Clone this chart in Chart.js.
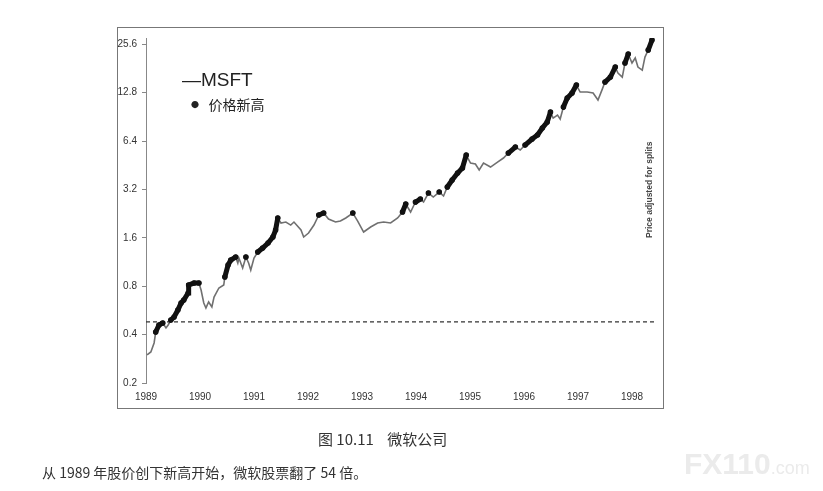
<!DOCTYPE html>
<html>
<head>
<meta charset="utf-8">
<script src="https://cdn.jsdelivr.net/npm/chart.js@4.4.1/dist/chart.umd.min.js"></script>
<style>
  body { margin: 0; background: #fff; }
  #wrap { position: relative; width: 823px; height: 491px; overflow: hidden; }
  #frame { position: absolute; left: 117px; top: 27px; width: 545px; height: 380px; border: 1px solid #777; }
  #chartBox { position: absolute; left: 0; top: 0; width: 823px; height: 491px; }
  .txt { position: absolute; white-space: nowrap; color: #222; }
</style>
</head>
<body>
<div id="wrap">
  <div id="frame"></div>
  <div id="chartBox"><canvas id="msftChart"></canvas></div>

  <!-- legend, drawn over the chart area -->
  <div class="txt" style="left:182px; top:70px; font:19px 'Liberation Sans', sans-serif; line-height:19px;">&#8212;MSFT</div>
  <div class="txt" style="left:191px; top:95px; font:14px 'Noto Sans CJK SC', sans-serif; line-height:18px;"><span style="font-size:8px; vertical-align:2px;">&#9679;</span>&nbsp;&nbsp;&nbsp;价格新高</div>

  <!-- side note -->
  <div class="txt" style="left:606px; top:190px; width:86px; text-align:center; transform:rotate(-90deg); font:bold 8.5px 'Liberation Sans Narrow', 'Liberation Sans', sans-serif; color:#444;">Price adjusted for splits</div>

  <!-- captions -->
  <div class="txt" style="left:318px; top:428px; font:15px 'Noto Sans CJK SC', sans-serif; color:#333;">图 10.11&nbsp;&nbsp;&nbsp;&nbsp;微软公司</div>
  <div class="txt" style="left:42px; top:462px; font:14px 'Noto Sans CJK SC', sans-serif; color:#333;">从 1989 年股价创下新高开始，微软股票翻了 54 倍。</div>

  <!-- watermark -->
  <div class="txt" style="left:684px; top:449px; font:bold 30px 'Liberation Sans', sans-serif; color:#ebebeb; line-height:30px;">FX110<span style="font-weight:normal; font-size:18px;">.com</span></div>
</div>

<script>
// MSFT price (split adjusted)
const dates = [
  1989.02, 1989.09, 1989.15, 1989.18, 1989.24, 1989.31, 1989.37, 1989.41, 1989.46, 1989.52,
  1989.59, 1989.65, 1989.70, 1989.78, 1989.79, 1989.89, 1989.98, 1990.02, 1990.07, 1990.11,
  1990.16, 1990.22, 1990.26, 1990.35, 1990.44, 1990.46, 1990.52, 1990.57, 1990.66, 1990.70,
  1990.72, 1990.79, 1990.85, 1990.90, 1990.94, 1991.00, 1991.07, 1991.16, 1991.26, 1991.35,
  1991.40, 1991.44, 1991.50, 1991.59, 1991.68, 1991.74, 1991.87, 1991.92, 1992.01, 1992.11,
  1992.20, 1992.29, 1992.38, 1992.51, 1992.60, 1992.70, 1992.83, 1992.92, 1993.03, 1993.16,
  1993.29, 1993.40, 1993.53, 1993.66, 1993.75, 1993.81, 1993.90, 1993.99, 1994.08, 1994.14,
  1994.23, 1994.32, 1994.43, 1994.51, 1994.58, 1994.67, 1994.77, 1994.86, 1994.93, 1995.01,
  1995.10, 1995.17, 1995.25, 1995.38, 1995.51, 1995.62, 1995.71, 1995.84, 1995.93, 1996.02,
  1996.15, 1996.25, 1996.34, 1996.43, 1996.49, 1996.54, 1996.62, 1996.67, 1996.73, 1996.80,
  1996.89, 1996.97, 1997.04, 1997.17, 1997.28, 1997.37, 1997.45, 1997.50, 1997.60, 1997.69,
  1997.74, 1997.82, 1997.87, 1997.93, 1998.00, 1998.06, 1998.11, 1998.19, 1998.24, 1998.30,
  1998.37
];
const prices = [
  0.299, 0.312, 0.355, 0.415, 0.459, 0.472, 0.440, 0.459, 0.493, 0.515,
  0.569, 0.629, 0.657, 0.726, 0.814, 0.837, 0.837, 0.757, 0.629, 0.586,
  0.638, 0.594, 0.685, 0.780, 0.814, 0.913, 1.084, 1.164, 1.215, 1.115,
  1.198, 1.038, 1.215, 1.115, 1.009, 1.198, 1.306, 1.383, 1.485, 1.619,
  1.789, 2.125, 1.978, 2.006, 1.921, 2.006, 1.789, 1.619, 1.714, 1.921,
  2.218, 2.282, 2.094, 2.006, 2.035, 2.125, 2.282, 2.035, 1.739, 1.868,
  1.978, 2.006, 1.978, 2.125, 2.315, 2.596, 2.315, 2.672, 2.790, 2.672,
  3.040, 2.870, 3.082, 2.912, 3.313, 3.661, 4.048, 4.348, 5.237, 4.670,
  4.605, 4.226, 4.670, 4.410, 4.738, 5.018, 5.390, 5.874, 5.626, 6.042,
  6.585, 6.974, 7.710, 8.404, 9.696, 8.894, 9.286, 8.772, 10.41, 11.84,
  12.73, 14.27, 12.91, 12.91, 12.73, 11.51, 13.47, 14.90, 16.00, 18.47,
  16.95, 16.00, 19.56, 22.26, 19.56, 21.02, 18.47, 17.69, 21.31, 23.56,
  27.19
];
const priorHigh = 0.40;         // high before the chart starts; dots begin once it is passed
const breakoutLevel = 0.48;     // dashed line: first new high in 1989
const xYears = [1989, 1990, 1991, 1992, 1993, 1994, 1995, 1996, 1997, 1998];
const yTicks = [0.2, 0.4, 0.8, 1.6, 3.2, 6.4, 12.8, 25.6];

// price series as x/y points
const pricePoints = dates.map((d, i) => ({ x: d, y: prices[i] }));

// mark the points that close at a new high (>= running max)
let runMax = priorHigh;
const highPoints = dates.map((d, i) => {
    if (prices[i] >= runMax) {
        runMax = prices[i];
        return { x: d, y: prices[i] };
    }
    return { x: d, y: null };
});

Chart.defaults.font.family = "'Liberation Sans', sans-serif";
Chart.defaults.font.size = 10;
Chart.defaults.color = '#333';

const ctx = document.getElementById('msftChart');
const msftChart = new Chart(ctx, {
    type: 'line',
    data: {
        datasets: [
            {
                label: '价格新高',
                data: highPoints,
                borderColor: '#111',
                backgroundColor: '#111',
                borderWidth: 5,
                borderCapStyle: 'round',
                pointRadius: 2.8,
                pointHoverRadius: 2.8,
                pointBorderWidth: 0,
                spanGaps: false,
                tension: 0,
                order: 0
            },
            {
                label: 'MSFT',
                data: pricePoints,
                borderColor: '#707070',
                borderWidth: 1.6,
                pointRadius: 0,
                tension: 0,
                order: 1
            },
            {
                label: 'breakout',
                data: [{ x: 1989, y: breakoutLevel }, { x: 1998.45, y: breakoutLevel }],
                borderColor: '#333',
                borderWidth: 1.3,
                borderDash: [4, 3],
                pointRadius: 0,
                order: 2
            }
        ]
    },
    options: {
        responsive: true,
        maintainAspectRatio: false,
        animation: false,
        layout: {
            padding: { left: 112, right: 164, top: 38, bottom: 78 }
        },
        scales: {
            x: {
                type: 'linear',
                min: 1989,
                max: 1998.5,
                afterBuildTicks: (scale) => { scale.ticks = xYears.map(v => ({ value: v })); },
                afterFit: (scale) => { scale.height = 30; },
                grid: { display: false, drawTicks: false },
                border: { display: false },
                ticks: {
                    padding: 8,
                    maxRotation: 0,
                    callback: (v) => String(v)
                }
            },
            y: {
                type: 'logarithmic',
                min: 0.2,
                max: 28,
                afterBuildTicks: (scale) => { scale.ticks = yTicks.map(v => ({ value: v })); },
                afterFit: (scale) => { scale.width = 34; },
                grid: { drawOnChartArea: false, drawTicks: true, tickLength: 4, color: '#888' },
                border: { display: true, color: '#888' },
                ticks: {
                    padding: 5,
                    callback: (v) => String(v)
                }
            }
        },
        plugins: {
            legend: { display: false },
            tooltip: { enabled: false }
        }
    }
});
</script>
</body>
</html>
